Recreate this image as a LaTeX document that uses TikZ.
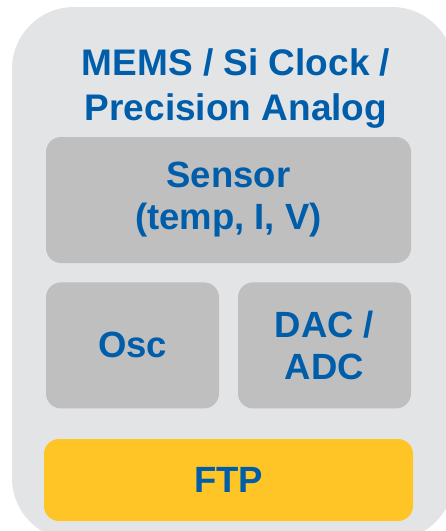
\documentclass[tikz,border=0pt]{standalone}
\usepackage{fontspec}
\setmainfont{Liberation Sans}
\usepackage{xcolor}
\usetikzlibrary{positioning}
\definecolor{outergray}{HTML}{E3E4E6}
\definecolor{blockgray}{HTML}{BFBFBF}
\definecolor{ftpgold}{HTML}{FFC526}
\definecolor{txtblue}{HTML}{005DAA}
\begin{document}
\begin{tikzpicture}[
  x=1pt, y=-1pt,
  node distance=19pt and 19pt,
  block/.style={rectangle, rounded corners=15pt, fill=blockgray, draw=none,
                minimum height=126pt, align=center, inner sep=0pt,
                text=txtblue, font=\fontsize{36.5}{42}\selectfont\bfseries},
  ftpbox/.style={block, fill=ftpgold, minimum height=82pt}
]
  \useasboundingbox (0,0) rectangle (446,531);
  \begin{scope}
    \clip (0,0) rectangle (446,531);
    \fill[outergray, rounded corners=62pt] (12,7) rectangle (454,540);
  \end{scope}
  \node[text=txtblue, align=center, font=\fontsize{37}{45}\selectfont\bfseries]
    (title) at (236,89) {MEMS / Si Clock /\\Precision Analog};
  \node[block, minimum width=365pt] (sensor) at (228.5,200) {Sensor\\(temp, I, V)};
  \node[block, minimum width=173pt, below=19pt of sensor.south west, anchor=north west]
    (osc) {Osc};
  \node[block, minimum width=173pt, below=19pt of sensor.south east, anchor=north east]
    (dac) {DAC /\\ADC};
  \node[ftpbox, minimum width=369pt] (ftp) at (228.5,480) {FTP};
\end{tikzpicture}
\end{document}
